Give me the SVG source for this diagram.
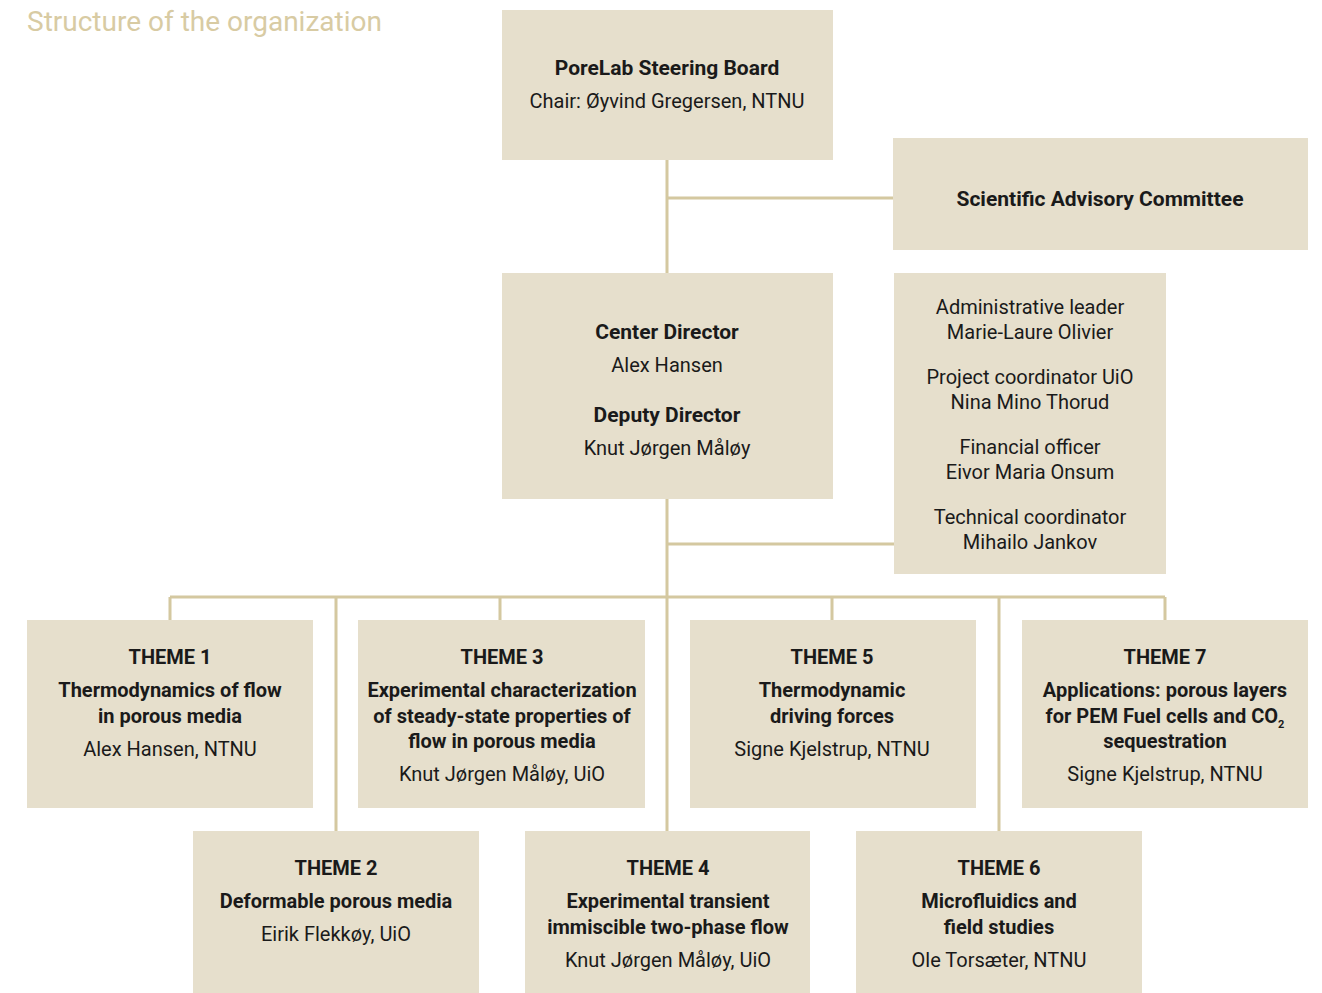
<svg xmlns="http://www.w3.org/2000/svg" width="1322" height="993" viewBox="0 0 1322 993">
<style>
.box{fill:#e6dfcc}
.ln{stroke:#d4c8a0;stroke-width:3;fill:none}
text{font-family:Roboto,"Liberation Sans",sans-serif;fill:#1a1a1a;text-anchor:middle}
.b{font-weight:bold;font-size:20px}
.h{font-weight:bold;font-size:21px}
.r{font-size:20px}
.t{font-size:20px;font-weight:bold}
.title{fill:#d8cba3;font-size:28px;text-anchor:start}
</style>
<rect width="1322" height="993" fill="#ffffff"/>
<text class="title" x="27" y="31">Structure of the organization</text>
<g id="connectors">
<path class="ln" d="M667,160 V273 M667,198 H893 M667,499 V831 M667,544 H894 M170,597 H1165 M170,597 V620 M336,597 V831 M500,597 V620 M832,597 V620 M999,597 V831 M1165,597 V620"/>
</g>
<g id="steering">
<rect class="box" x="502" y="10" width="331" height="150"/>
<text class="h" x="667" y="75">PoreLab Steering Board</text>
<text class="r" x="667" y="108">Chair: Øyvind Gregersen, NTNU</text>
</g>
<g id="sac">
<rect class="box" x="893" y="138" width="415" height="112"/>
<text class="h" x="1100" y="206">Scientific Advisory Committee</text>
</g>
<g id="director">
<rect class="box" x="502" y="273" width="331" height="226"/>
<text class="h" x="667" y="339">Center Director</text>
<text class="r" x="667" y="372">Alex Hansen</text>
<text class="h" x="667" y="422">Deputy Director</text>
<text class="r" x="667" y="455">Knut Jørgen Måløy</text>
</g>
<g id="admin">
<rect class="box" x="894" y="273" width="272" height="301"/>
<text class="r" x="1030" y="314">Administrative leader</text>
<text class="r" x="1030" y="339">Marie-Laure Olivier</text>
<text class="r" x="1030" y="384">Project coordinator UiO</text>
<text class="r" x="1030" y="409">Nina Mino Thorud</text>
<text class="r" x="1030" y="454">Financial officer</text>
<text class="r" x="1030" y="479">Eivor Maria Onsum</text>
<text class="r" x="1030" y="524">Technical coordinator</text>
<text class="r" x="1030" y="549">Mihailo Jankov</text>
</g>
<g id="theme1">
<rect class="box" x="27" y="620" width="286" height="188"/>
<text class="t" x="170" y="664">THEME 1</text>
<text class="b" x="170" y="697">Thermodynamics of flow</text>
<text class="b" x="170" y="723">in porous media</text>
<text class="r" x="170" y="756">Alex Hansen, NTNU</text>
</g>
<g id="theme3">
<rect class="box" x="358" y="620" width="287" height="188"/>
<text class="t" x="502" y="664">THEME 3</text>
<text class="b" x="502" y="697">Experimental characterization</text>
<text class="b" x="502" y="723">of steady-state properties of</text>
<text class="b" x="502" y="748">flow in porous media</text>
<text class="r" x="502" y="781">Knut Jørgen Måløy, UiO</text>
</g>
<g id="theme5">
<rect class="box" x="690" y="620" width="286" height="188"/>
<text class="t" x="832" y="664">THEME 5</text>
<text class="b" x="832" y="697">Thermodynamic</text>
<text class="b" x="832" y="723">driving forces</text>
<text class="r" x="832" y="756">Signe Kjelstrup, NTNU</text>
</g>
<g id="theme7">
<rect class="box" x="1022" y="620" width="286" height="188"/>
<text class="t" x="1165" y="664">THEME 7</text>
<text class="b" x="1165" y="697">Applications: porous layers</text>
<text class="b" x="1165" y="723">for PEM Fuel cells and CO<tspan font-size="11" dy="5">2</tspan></text>
<text class="b" x="1165" y="748">sequestration</text>
<text class="r" x="1165" y="781">Signe Kjelstrup, NTNU</text>
</g>
<g id="theme2">
<rect class="box" x="193" y="831" width="286" height="162"/>
<text class="t" x="336" y="875">THEME 2</text>
<text class="b" x="336" y="908">Deformable porous media</text>
<text class="r" x="336" y="941">Eirik Flekkøy, UiO</text>
</g>
<g id="theme4">
<rect class="box" x="525" y="831" width="285" height="162"/>
<text class="t" x="668" y="875">THEME 4</text>
<text class="b" x="668" y="908">Experimental transient</text>
<text class="b" x="668" y="934">immiscible two-phase flow</text>
<text class="r" x="668" y="967">Knut Jørgen Måløy, UiO</text>
</g>
<g id="theme6">
<rect class="box" x="856" y="831" width="286" height="162"/>
<text class="t" x="999" y="875">THEME 6</text>
<text class="b" x="999" y="908">Microfluidics and</text>
<text class="b" x="999" y="934">field studies</text>
<text class="r" x="999" y="967">Ole Torsæter, NTNU</text>
</g>
</svg>
